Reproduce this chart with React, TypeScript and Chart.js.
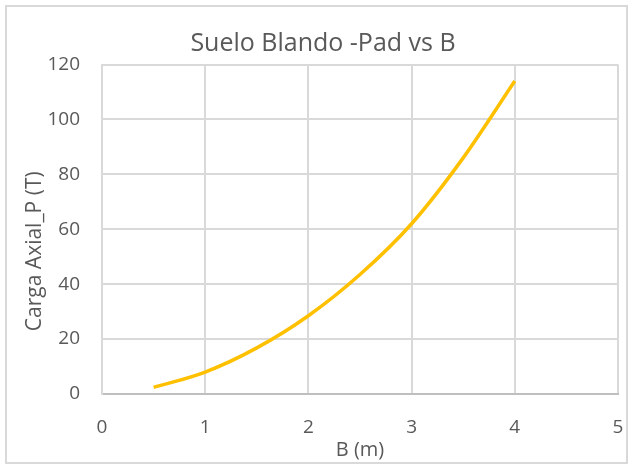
import React, { useEffect, useRef } from "react";
import { Chart, registerables } from "chart.js";

Chart.register(...registerables);

// Footing width B (m) and axial load P (T)
const anchoB: number[] = [0.5, 1.0, 1.5, 2.0, 2.5, 3.0, 3.5, 4.0];
const cargaP: number[] = [2.4, 8.0, 16.8, 28.5, 43.5, 62.0, 86.0, 114.0];

const titulo = "Suelo Blando -Pad vs B";
const tituloX = "B (m)";
const tituloY = "Carga Axial_P (T)";

const W = 632;
const H = 466;
const FONT = "'Open Sans', 'DejaVu Sans', sans-serif";
const TEXT = "#595959";
const GRID = "#d9d9d9";

// Light frame around the whole chart
const framePlugin = {
  id: "frame",
  beforeDraw(chart: Chart) {
    const ctx = chart.ctx;
    ctx.save();
    ctx.fillStyle = "#ffffff";
    ctx.fillRect(0, 0, chart.width, chart.height);
    ctx.strokeStyle = GRID;
    ctx.lineWidth = 2;
    ctx.strokeRect(6, 6, 621, 457);
    ctx.restore();
  },
};

// Vertical axis title, placed slightly below the plot's middle
const yTitlePlugin = {
  id: "yTitle",
  afterDraw(chart: Chart) {
    const ctx = chart.ctx;
    const area = chart.chartArea;
    ctx.save();
    ctx.translate(35, (area.top + area.bottom) / 2 + 22);
    ctx.rotate(-Math.PI / 2);
    ctx.fillStyle = TEXT;
    ctx.font = `21px ${FONT}`;
    ctx.textAlign = "center";
    ctx.textBaseline = "middle";
    ctx.fillText(tituloY, 0, 0);
    ctx.restore();
  },
};

export default function App() {
  const ref = useRef<HTMLCanvasElement | null>(null);

  useEffect(() => {
    if (!ref.current) return;
    const chart = new Chart(ref.current, {
      type: "scatter",
      data: {
        datasets: [
          {
            label: "P",
            data: anchoB.map((b, i) => ({ x: b, y: cargaP[i] })),
            showLine: true,
            borderColor: "#FFC000",
            backgroundColor: "#FFC000",
            borderWidth: 3.5,
            pointRadius: 0,
            cubicInterpolationMode: "monotone",
            fill: false,
          },
        ],
      },
      plugins: [framePlugin, yTitlePlugin],
      options: {
        responsive: false,
        animation: false,
        devicePixelRatio: 1,
        layout: { padding: { left: 14, right: 0, top: 0, bottom: 0 } },
        plugins: {
          legend: { display: false },
          tooltip: { enabled: false },
          title: {
            display: true,
            text: titulo,
            color: TEXT,
            font: { family: FONT, size: 25, weight: "normal", lineHeight: 1.2 },
            padding: { top: 29, bottom: 5.5 },
          },
        },
        scales: {
          x: {
            type: "linear",
            min: 0,
            max: 5,
            ticks: {
              stepSize: 1,
              color: TEXT,
              font: { family: FONT, size: 19 },
              padding: 22,
            },
            grid: { color: GRID, lineWidth: 2, drawTicks: false },
            border: { color: "#bfbfbf", width: 2 },
            title: {
              display: true,
              text: tituloX,
              color: TEXT,
              font: { family: FONT, size: 20, lineHeight: 1.2 },
              padding: { top: 0, bottom: 4 },
            },
            afterFit(scale: any) {
              scale.height = 72;
              scale.paddingLeft = 0;
              scale.paddingRight = 14;
            },
          },
          y: {
            type: "linear",
            min: 0,
            max: 120,
            ticks: {
              stepSize: 20,
              color: TEXT,
              font: { family: FONT, size: 19 },
              padding: 22,
            },
            grid: { color: GRID, lineWidth: 2, drawTicks: false },
            border: { color: GRID, width: 2 },
            afterFit(scale: any) {
              scale.width = 88;
            },
          },
        },
      },
    });
    return () => chart.destroy();
  }, []);

  return (
    <div style={{ position: "absolute", left: 0, top: 0, width: W, height: H }}>
      <canvas ref={ref} width={W} height={H} style={{ display: "block" }} />
    </div>
  );
}
